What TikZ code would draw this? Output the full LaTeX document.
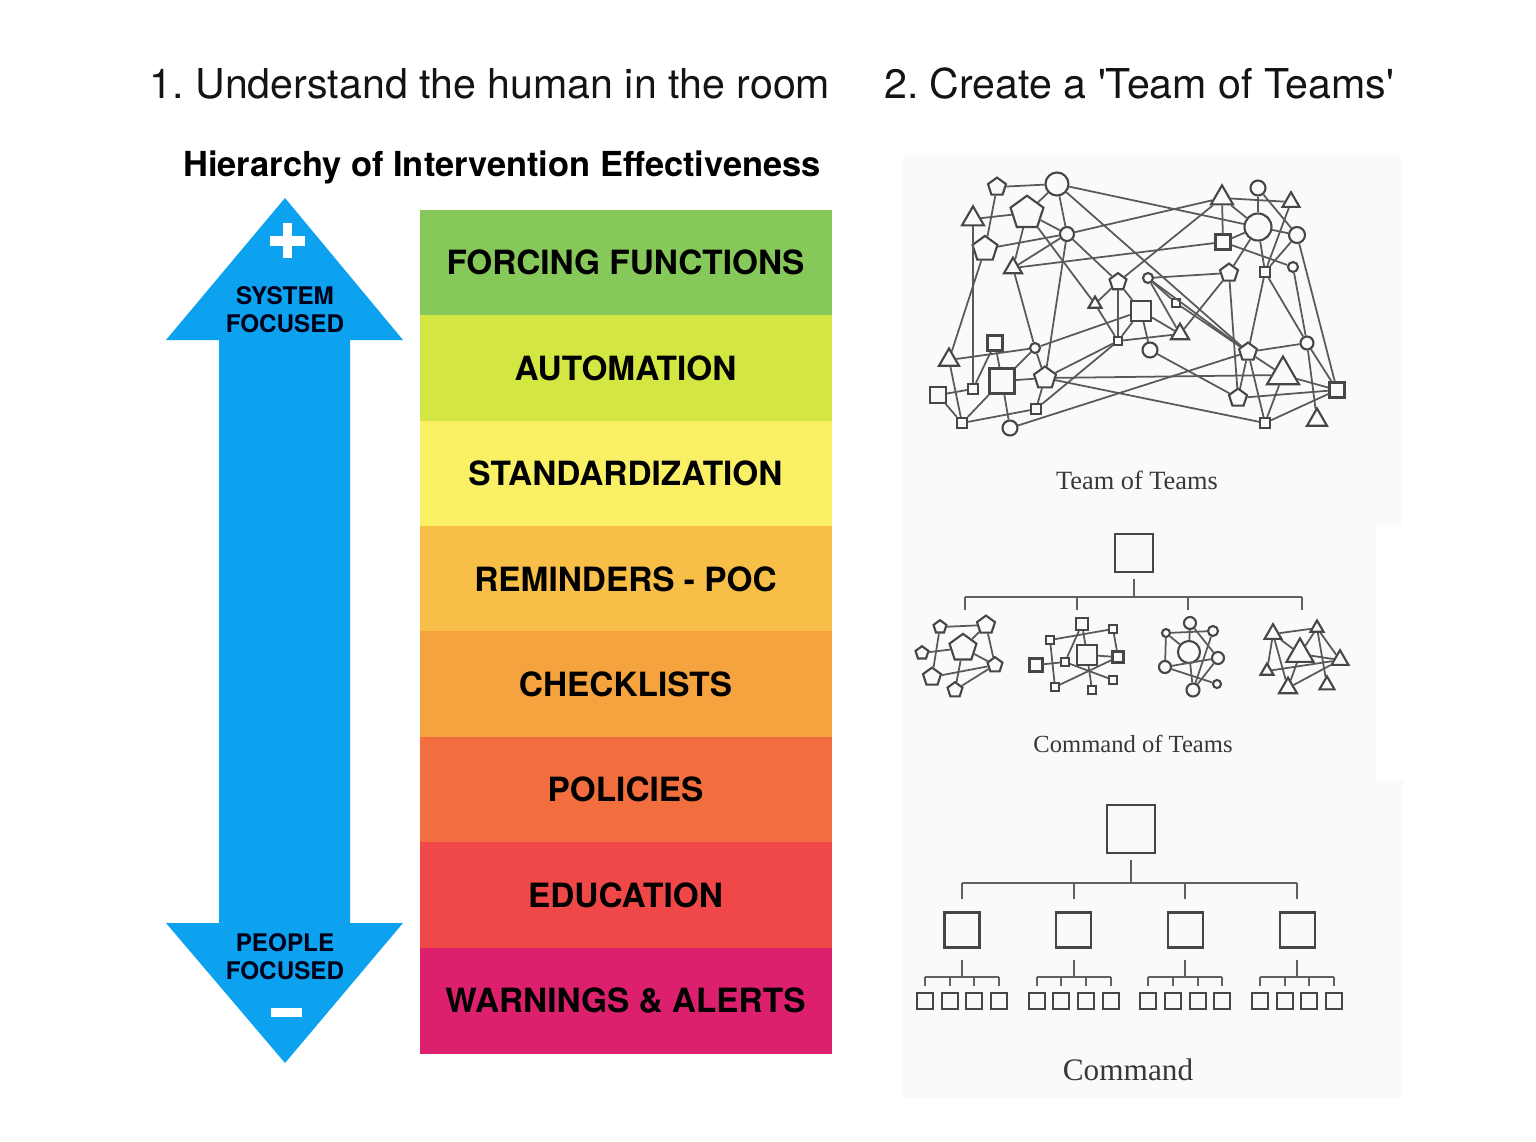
\documentclass[tikz,border=0pt]{standalone}
\usepackage{fontspec}
\setsansfont{TeX Gyre Heros}
\newfontfamily\headfont{TeX Gyre Heros}[Ligatures=TeXOff]
\newfontfamily\capfont{Liberation Serif}
\usetikzlibrary{shapes.geometric}
\frenchspacing
\definecolor{arrowblue}{RGB}{12,162,240}
\definecolor{panelgray}{RGB}{250,250,250}
\definecolor{inkgray}{RGB}{70,70,70}
\definecolor{bandA}{RGB}{135,200,90}
\definecolor{bandB}{RGB}{212,230,66}
\definecolor{bandC}{RGB}{250,240,102}
\definecolor{bandD}{RGB}{247,190,72}
\definecolor{bandE}{RGB}{245,163,62}
\definecolor{bandF}{RGB}{242,110,62}
\definecolor{bandG}{RGB}{240,72,72}
\definecolor{bandH}{RGB}{220,32,110}
\tikzset{
  shp/.style={draw=inkgray,line width=.6pt,inner sep=0pt},
  pen/.style={shp,regular polygon,regular polygon sides=5,minimum size=#1*0.105mm},
  tri/.style={shp,regular polygon,regular polygon sides=3,minimum size=#1*0.1155mm},
  cir/.style={shp,circle,minimum size=#1*0.1mm},
  sqr/.style={shp,rectangle,minimum size=#1*0.1mm},
  link/.style={draw=black!65,line width=.5pt},
  tree/.style={draw=black!62,line width=.6pt},
  band/.style={minimum width=41.2mm,minimum height=10.6mm,inner sep=0pt,
    font=\sffamily\bfseries\fontsize{9.5}{11}\selectfont},
  focus/.style={align=center,inner sep=0pt,text=black!90!blue,
    font=\sffamily\bfseries\fontsize{6.9}{8}\selectfont},
  head/.style={anchor=base,inner sep=0pt,text=black!92,font=\headfont\fontsize{11.7}{14}\selectfont},
  caption/.style={anchor=base,inner sep=0pt,text=black!78}
}
\begin{document}
\begin{tikzpicture}[x=0.1mm,y=-0.1mm]
\useasboundingbox (0,0) rectangle (1536,1141);
\fill[white] (0,0) rectangle (1536,1141);
% headings
\node[head] (h1) at (490,98) {1. Understand the human in the room};
\node[head] (h2) at (1139,98) {2. Create a 'Team of Teams'};
\node[anchor=base,inner sep=0pt,font=\sffamily\bfseries\fontsize{9.8}{12}\selectfont] (title) at (502,176) {Hierarchy of Intervention Effectiveness};
% double arrow
\fill[arrowblue] (285,198) -- (403,340) -- (350,340) -- (350,923) -- (403,923) -- (285,1063)
  -- (166,923) -- (219,923) -- (219,340) -- (166,340) -- cycle;
\fill[white] (270,236) rectangle (305,246);
\fill[white] (282.5,223) rectangle (291.5,258);
\fill[white] (271,1008) rectangle (302,1017);
\node[focus] (sys) at (285,310) {SYSTEM\\FOCUSED};
\node[focus] (ppl) at (285,957) {PEOPLE\\FOCUSED};
% bands
\foreach \c/\t [count=\k] in {bandA/FORCING FUNCTIONS,bandB/AUTOMATION,bandC/STANDARDIZATION,
  bandD/REMINDERS - POC,bandE/CHECKLISTS,bandF/POLICIES,bandG/EDUCATION,bandH/WARNINGS \& ALERTS}
  \node[band,fill=\c] (b\k) at (625.5,{210+105.4*(\k-0.5)}) {\t};
% panels
\fill[panelgray] (903,155) rectangle (1401,527);
\fill[panelgray] (903,527) rectangle (1376,780);
\fill[panelgray] (903,780) rectangle (1403,1098);
% team of teams
\foreach \n/\x/\y/\s in {1/997/187/18,3/1027/213/33,6/985/249/25,16/1229/273/18,
  17/1118/282/17,30/1045/378/22,35/1248/352/18,39/1238/398/18}
  \node[pen=\s] (t\n) at (\x,\y) {};
\foreach \n/\x/\y/\s in {2/1057/184/23,5/1067/234/14,9/1258/188/15,11/1258/227/27,
  12/1297/235/16,14/1293/267/10,18/1148/278/10,24/1150/350/15,26/1035/348/10,
  34/1010/428/15,36/1307/343/13}
  \node[cir=\s] (t\n) at (\x,\y) {};
\foreach \n/\x/\y/\s in {4/973/219/22,7/1013/268/18,8/1222/198/22,10/1291/202/17,
  19/1095/304/13,22/1180/334/18,27/949/360/20,37/1283/375/32,41/1317/420/20}
  \node[tri=\s] (t\n) at (\x,\y) {};
\foreach \n/\x/\y/\s in {13/1223/242/15,15/1265/272/10,20/1141/311/20,21/1176/303/8,
  23/1118/341/8,25/995/343/15,28/973/389/10,29/1002/381/25,31/938/395/16,
  32/1036/409/10,33/962/423/10,38/1337/390/15,40/1265/423/10}
  \node[sqr=\s] (t\n) at (\x,\y) {};
\foreach \a/\b in {1/2,1/6,2/3,2/5,2/11,2/35,4/3,4/28,3/5,3/7,3/19,5/6,5/7,5/8,5/17,5/30,
  6/27,7/13,7/26,8/10,8/13,8/17,8/11,9/11,9/12,10/15,11/13,11/15,11/16,11/12,12/15,
  12/38,13/14,14/36,15/35,15/36,16/18,16/22,16/39,17/19,17/20,17/23,18/21,18/22,18/35,
  19/23,20/23,20/24,20/22,20/26,21/35,23/22,23/30,23/32,24/39,25/28,25/29,26/27,26/29,
  26/30,27/33,28/31,29/30,29/33,30/32,30/37,30/40,31/33,32/33,34/35,29/34,35/36,35/37,
  35/39,35/40,36/38,36/41,37/38,39/38,37/40,40/38}
  \draw[link] (t\a) -- (t\b);
\node[caption,font=\capfont\fontsize{7.5}{9}\selectfont] (cap1) at (1137,489) {Team of Teams};
% command of teams
\node[sqr=38] (cot) at (1134,553) {};
\coordinate (cotbar) at (1134,597);
\foreach \i/\x in {1/965,2/1077,3/1188,4/1302}
  \coordinate (d\i) at (\x,610);
\draw[tree] (cot.south) ++(0,6) -- (cotbar);
\draw[tree] (d1 |- cotbar) -- (d4 |- cotbar);
\foreach \i in {1,...,4}
  \draw[tree] (d\i |- cotbar) -- (d\i);
\foreach \n/\x/\y/\s in {1/940/627/13,2/986/625/18,3/963/648/27,4/922/653/13,
  5/995/665/15,6/932/677/18,7/955/690/15}
  \node[pen=\s] (p\n) at (\x,\y) {};
\foreach \a/\b in {1/2,1/6,2/5,2/3,4/3,3/5,6/5,7/5,3/7}
  \draw[link] (p\a) -- (p\b);
\foreach \n/\x/\y/\s in {1/1082/624/12,2/1113/629/8,3/1050/640/8,4/1087/655/20,
  5/1118/657/11,6/1036/665/13,7/1065/662/8,8/1055/687/8,9/1113/680/8,10/1092/690/8}
  \node[sqr=\s] (s\n) at (\x,\y) {};
\foreach \a/\b in {3/2,1/4,1/7,2/5,4/5,6/7,3/8,8/5,7/9,4/10}
  \draw[link] (s\a) -- (s\b);
\foreach \n/\x/\y/\s in {1/1190/623/12,2/1213/631/10,3/1166/633/8,4/1189/652/22,
  5/1218/658/12,6/1165/667/12,7/1193/690/13,8/1217/684/8}
  \node[cir=\s] (c\n) at (\x,\y) {};
\foreach \a/\b in {3/2,3/6,1/4,2/7,1/5,6/8,4/7,3/4,5/7,6/5}
  \draw[link] (c\a) -- (c\b);
\foreach \n/\x/\y/\s in {1/1273/634/17,2/1317/628/13,3/1300/654/27,4/1340/660/17,
  5/1267/671/13,6/1288/688/18,7/1327/685/15}
  \node[tri=\s] (r\n) at (\x,\y) {};
\foreach \a/\b in {1/2,1/5,1/6,1/3,2/3,2/4,2/7,5/4,3/6,6/4,3/4}
  \draw[link] (r\a) -- (r\b);
\node[caption,font=\capfont\fontsize{7}{9}\selectfont] (cap2) at (1133,752) {Command of Teams};
% command
\node[sqr=48] (cmd) at (1131,829) {};
\coordinate (cbar) at (1131,883);
\draw[tree] (cmd.south) ++(0,6) -- (cbar);
\foreach \i in {1,...,4}{
  \pgfmathsetmacro\mx{962+111.7*(\i-1)}
  \node[sqr=35] (m\i) at (\mx,930) {};
  \draw[tree] (m\i.north) ++(0,-12) -- (m\i |- cbar);
  \coordinate (gb\i) at (\mx,977);
  \draw[tree] (m\i.south) ++(0,11) -- (gb\i);
  \foreach \j/\dx in {1/-37,2/-12.3,3/12.3,4/37}{
    \node[sqr=16] (l\i\j) at (\mx+\dx,1001) {};
    \draw[tree] (l\i\j.north) ++(0,-6) -- (l\i\j |- gb\i);
  }
  \draw[tree] (l\i1 |- gb\i) -- (l\i4 |- gb\i);
}
\draw[tree] (m1 |- cbar) -- (m4 |- cbar);
\node[caption,font=\capfont\fontsize{8.9}{11}\selectfont] (cap3) at (1128,1080) {Command};
\end{tikzpicture}
\end{document}
